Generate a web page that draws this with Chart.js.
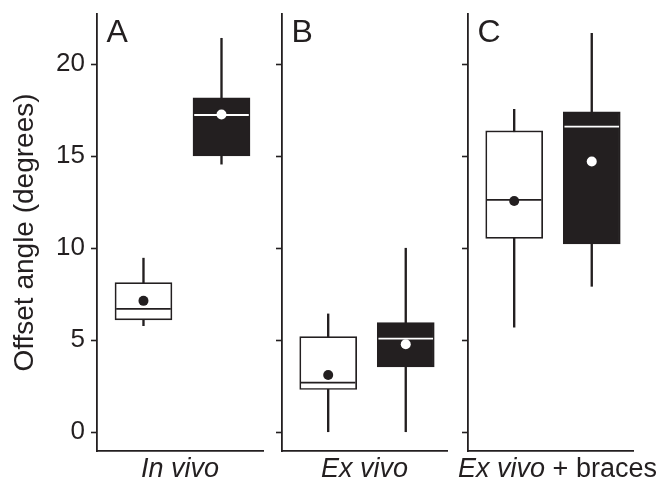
<!DOCTYPE html>
<html><head><meta charset="utf-8">
<script src="https://cdn.jsdelivr.net/npm/chart.js@4"></script>
<style>
html,body{margin:0;padding:0;background:#fff;}
#wrap{position:relative;width:661px;height:483px;overflow:hidden;background:#fff;}
.p{position:absolute;top:0;height:483px;}
</style></head><body>
<div id="wrap">
<div class="p" style="left:0;width:270px"><canvas id="c0"></canvas></div>
<div class="p" style="left:270px;width:185px"><canvas id="c1"></canvas></div>
<div class="p" style="left:455px;width:206px"><canvas id="c2"></canvas></div>
</div>
<script>
// ---- data (per panel: [white box, black box]) ----
const panelLetters = ['A', 'B', 'C'];
const groups = ['In vivo', 'Ex vivo', 'Ex vivo + braces'];
const groupItalic = ['In vivo', 'Ex vivo', 'Ex vivo'];
const yTicks = [0, 5, 10, 15, 20];
const whiskerLow  = [[5.79, 14.57], [0.0, 0.0], [5.71, 7.93]];
const q1          = [[6.10, 15.02], [2.32, 3.55], [10.54, 10.23]];
const median      = [[6.70, 17.24], [2.70, 5.09], [12.63, 16.61]];
const q3          = [[8.13, 18.18], [5.20, 5.96], [16.38, 17.41]];
const whiskerHigh = [[9.46, 21.41], [6.43, 10.00], [17.55, 21.68]];
const mean        = [[7.14, 17.27], [3.11, 4.78], [12.57, 14.71]];

// ---- layout / style ----
const slotX = [0.28, 0.75];
const ink = '#231f20';
const fam = '"Liberation Sans", Arial, Helvetica, sans-serif';
const boxFill = ['#ffffff', ink];
const detail = [ink, '#ffffff'];
const yAxisW = [97, 12, 13];
const padRight = [7, 8, 28];

const decor = {
  id: 'decor',
  afterDraw(chart, args, o) {
    const ctx = chart.ctx, ca = chart.chartArea;
    ctx.save();
    ctx.fillStyle = ink;
    ctx.textAlign = 'left';
    ctx.textBaseline = 'alphabetic';
    ctx.font = '32px ' + fam;
    ctx.fillText(o.letter, ca.left + 9.5, ca.top + 27.7);
    if (o.mixed) {
      const xs = chart.scales.x;
      const fi = 'italic 27px ' + fam, fn = '27px ' + fam;
      ctx.font = fi; const w1 = ctx.measureText(o.mixed[0]).width;
      ctx.font = fn; const w2 = ctx.measureText(o.mixed[1]).width;
      const cx = (xs.left + xs.right) / 2 + 7;
      const x0 = cx - (w1 + w2) / 2;
      const y = xs.bottom - 13.5;
      ctx.textBaseline = 'middle';
      ctx.font = fi; ctx.fillText(o.mixed[0], x0, y);
      ctx.font = fn; ctx.fillText(o.mixed[1], x0 + w1, y);
    }
    ctx.restore();
  }
};

panelLetters.forEach((letter, i) => {
  const first = i === 0;
  const plainTitle = groups[i] === groupItalic[i];
  new Chart(document.getElementById('c' + i), {
    type: 'bar',
    data: {
      datasets: [
        { type: 'bar', order: 4, grouped: false, barThickness: 1.7,
          data: slotX.map((x, j) => ({ x, y: [whiskerLow[i][j], whiskerHigh[i][j]] })),
          backgroundColor: ink, borderWidth: 0 },
        { type: 'bar', order: 3, grouped: false, barThickness: 57,
          data: slotX.map((x, j) => ({ x, y: [q1[i][j], q3[i][j]] })),
          backgroundColor: boxFill, borderColor: ink, borderWidth: 1.7, borderSkipped: false },
        { type: 'scatter', order: 2,
          data: slotX.map((x, j) => ({ x, y: median[i][j] })),
          pointStyle: 'line', pointRadius: 27.3, pointBorderColor: detail, pointBorderWidth: 1.8 },
        { type: 'scatter', order: 1,
          data: slotX.map((x, j) => ({ x, y: mean[i][j] })),
          pointStyle: 'circle', pointRadius: 5, pointBackgroundColor: detail,
          pointBorderColor: detail, pointBorderWidth: 0 }
      ]
    },
    options: {
      responsive: true, maintainAspectRatio: false, animation: false, events: [],
      layout: { autoPadding: false, padding: { top: 14, right: padRight[i], left: 0, bottom: 0 } },
      plugins: { legend: { display: false }, tooltip: { enabled: false },
        decor: { letter, mixed: plainTitle ? null : [groupItalic[i], groups[i].slice(groupItalic[i].length)] } },
      scales: {
        x: {
          type: 'linear', min: 0, max: 1, offset: false,
          grid: { display: false, offset: false },
          border: { display: true, color: ink, width: 1.8 },
          ticks: { display: false },
          afterFit: s => { s.height = 32; s.paddingLeft = 0; s.paddingRight = 0; },
          title: { display: plainTitle, text: groups[i], color: ink, padding: 0,
                   font: { family: fam, size: 27, style: 'italic', lineHeight: 1 } }
        },
        y: {
          type: 'linear', min: -1.02, max: 22.73,
          afterBuildTicks: s => { s.ticks = yTicks.map(v => ({ value: v })); },
          afterFit: s => { s.width = yAxisW[i]; s.paddingTop = 0; s.paddingBottom = 0; },
          grid: { drawOnChartArea: false, drawTicks: true, tickLength: 6, tickWidth: 1.6,
                  tickColor: ink, color: ink },
          border: { display: true, color: ink, width: 1.8 },
          ticks: { display: first, padding: 6, color: ink, font: { family: fam, size: 26 } },
          title: { display: first, text: 'Offset angle (degrees)', color: ink,
                   padding: { top: 8, bottom: 0 }, font: { family: fam, size: 28, lineHeight: 1.2 } }
        }
      }
    },
    plugins: [decor]
  });
});
</script>
</body></html>
